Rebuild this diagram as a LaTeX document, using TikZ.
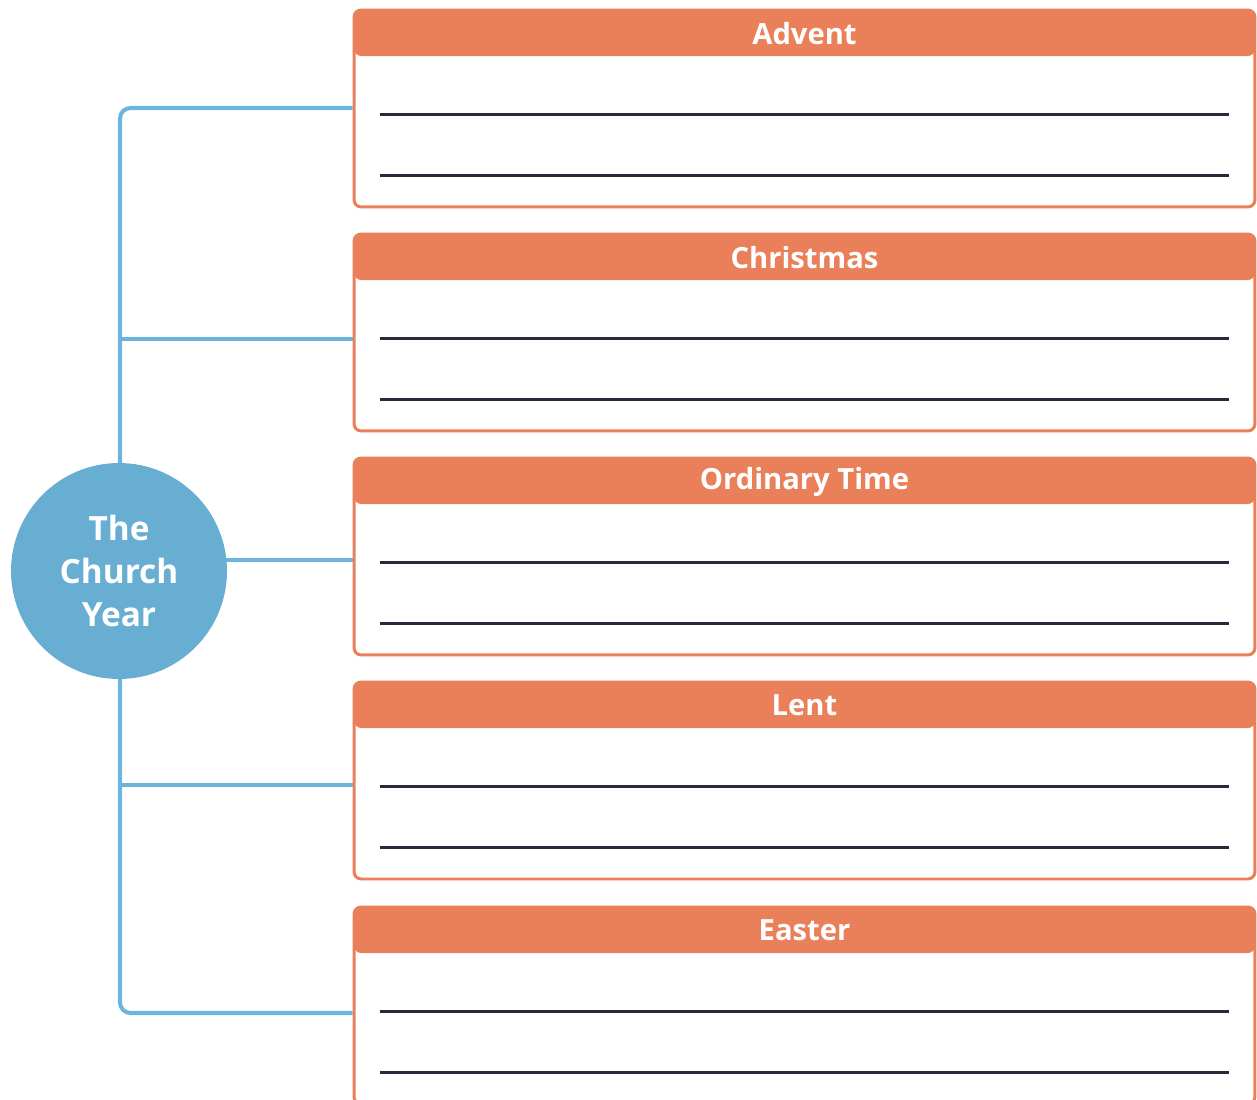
\documentclass[tikz,border=0pt]{standalone}
\usepackage{fontspec}
\setmainfont{Open Sans}
\usetikzlibrary{calc}

\definecolor{seasonorange}{RGB}{233,128,89}
\definecolor{yearblue}{RGB}{104,174,211}
\definecolor{spineblue}{RGB}{108,180,220}
\definecolor{ruledark}{RGB}{40,42,58}

\tikzset{
  seasonbox/.style={draw=seasonorange,line width=1.7pt,rounded corners=4pt,
    minimum width=18.02cm,minimum height=3.94cm,inner sep=0pt,
    path picture={\fill[seasonorange] (path picture bounding box.north west)
      rectangle ([yshift=-0.92cm]path picture bounding box.north east);}},
  seasontitle/.style={text=white,font=\bfseries\fontsize{16.6}{20}\selectfont},
  spine/.style={draw=spineblue,line width=2.3pt},
  rule/.style={draw=ruledark,line width=1.2pt}
}

\begin{document}
\begin{tikzpicture}[x=0.02cm,y=-0.02cm]
\useasboundingbox (0,0) rectangle (1257,1099);
% the five seasons
\foreach \y/\n/\t/\c in {10/advent/Advent/108,234/christmas/Christmas/339,
    458/ordinary/Ordinary Time/560,682/lent/Lent/785,907/easter/Easter/1013}{
  \node[seasonbox] (\n) at (804.5,\y+98.5) {};
  \node[seasontitle] (\n-title) at ([yshift=-0.5cm]\n.north) {\t};
  \draw[rule] ([xshift=0.54cm,yshift=-2.12cm]\n.north west)
    -- ([xshift=-0.54cm,yshift=-2.12cm]\n.north east);
  \draw[rule] ([xshift=0.54cm,yshift=-3.34cm]\n.north west)
    -- ([xshift=-0.54cm,yshift=-3.34cm]\n.north east);
  \coordinate (\n-in) at (\n.west |- 0,\c);
}
\coordinate (year-c) at (120,571);
\draw[spine,rounded corners=6pt] (advent-in) -| (year-c) |- (easter-in);
\draw[spine] (christmas-in) -- (christmas-in -| year-c);
\draw[spine] (ordinary-in) -- (ordinary-in -| year-c);
\draw[spine] (lent-in) -- (lent-in -| year-c);
\node[circle,fill=yearblue,minimum size=4.32cm,inner sep=0pt,align=center,
  text=white,font=\bfseries\fontsize{19}{24.4}\selectfont] (year) at (119,571)
  {The\\Church\\Year};
\end{tikzpicture}
\end{document}
